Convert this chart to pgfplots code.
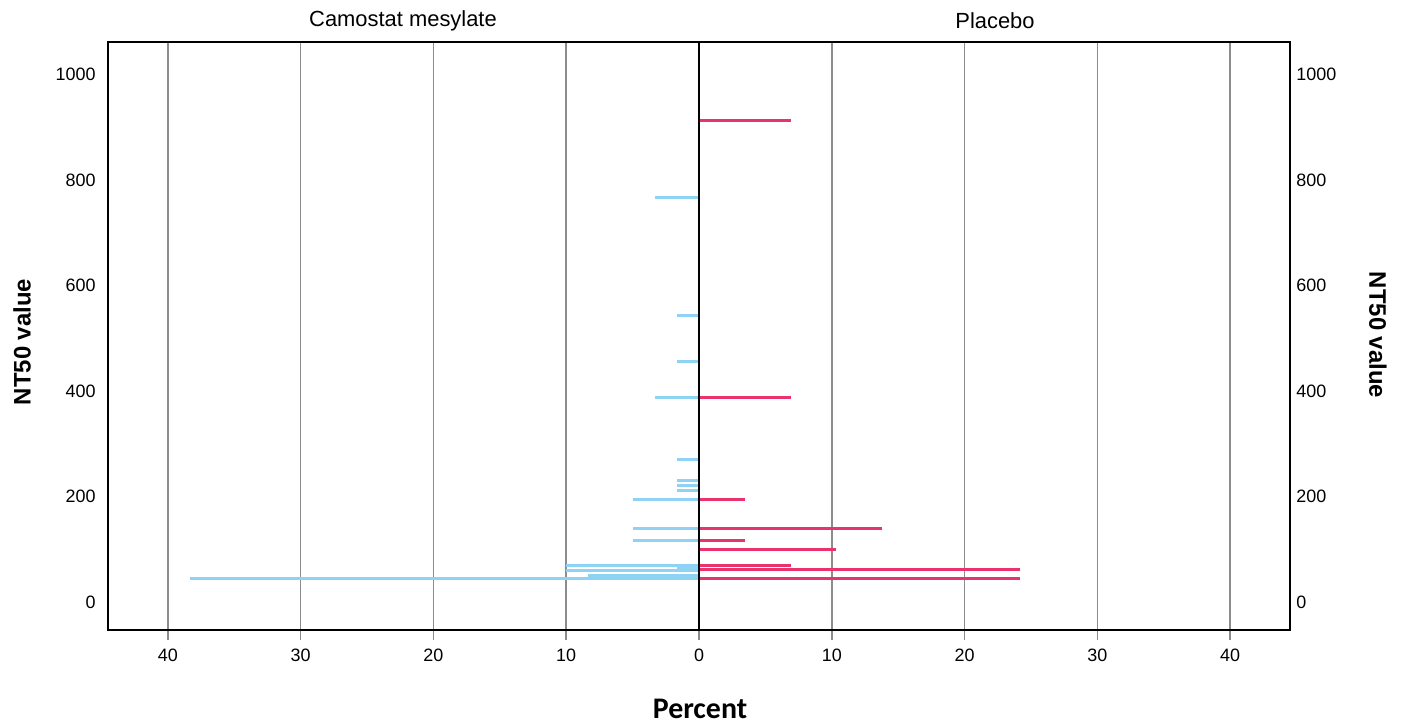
\documentclass[border=0pt]{standalone}
\usepackage{pgfplots}
\pgfplotsset{compat=1.18}
\usepackage{fontspec}
\setmainfont{Liberation Sans}
\newfontfamily\calib{Carlito}
\definecolor{camo}{HTML}{8FD3F4}
\definecolor{plac}{HTML}{E8336D}
\definecolor{gridc}{HTML}{8C8C8C}

\begin{document}
\begin{tikzpicture}[x=1bp,y=1bp]
\useasboundingbox (0,0) rectangle (1410,725);
\begin{axis}[at={(108bp,95bp)}, anchor=south west, scale only axis,
  width=1182bp, height=588bp,
  xmin=-44.5, xmax=44.5, ymin=-53, ymax=1062,
  xtick={-40,-30,...,40}, xticklabels={40,30,20,10,0,10,20,30,40},
  ytick={0,200,...,1000}, yticklabel pos=left,
  xtick pos=bottom,
  xmajorgrids, grid style={gridc, line width=1.5bp},
  tick align=outside, major tick length=10bp,
  xtick style={gridc, line width=1.5bp}, ytick style={draw=none},
  axis line style={black, line width=2bp},
  ticklabel style={font=\fontsize{18}{20}\selectfont},
  /pgf/number format/assume math mode=true, /pgf/number format/1000 sep={},
  xticklabel style={yshift=-5bp}, yticklabel style={xshift=1bp},
  clip=true]
% Camostat mesylate (percent, plotted to the left)
\addplot[xcomb, camo, line width=3bp, mark=none] coordinates {
(-3.33,768) (-1.67,543) (-1.67,457) (-3.33,387) (-1.67,271) (-1.67,231) (-1.67,221) (-1.67,211)
(-5.0,195) (-5.0,140) (-5.0,116) (-10.0,70) (-10.0,59) (-1.67,64.5) (-8.33,51) (-38.33,45)
};
% Placebo
\addplot[xcomb, plac, line width=3bp, mark=none] coordinates {
(6.9,913) (6.9,387) (3.45,195) (13.79,140) (3.45,116) (10.34,100) (6.9,70) (24.14,61) (24.14,45)
};
\addplot[black, line width=2bp, mark=none] coordinates {(0,-53) (0,1062)};
\end{axis}
\begin{axis}[at={(108bp,95bp)}, anchor=south west, scale only axis,
  width=1182bp, height=588bp,
  xmin=-44.5, xmax=44.5, ymin=-53, ymax=1062,
  xtick=\empty, ytick={0,200,...,1000}, yticklabel pos=right,
  ytick style={draw=none}, axis line style={draw=none},
  ticklabel style={font=\fontsize{18}{20}\selectfont},
  /pgf/number format/assume math mode=true, /pgf/number format/1000 sep={},
  yticklabel style={xshift=3bp}]
\addplot[draw=none, mark=none] coordinates {(0,0)};
\end{axis}
\node[font=\fontsize{22}{24}\selectfont] at (403,704) {Camostat mesylate};
\node[font=\fontsize{22}{24}\selectfont] at (995,704) {Placebo};
\node[font=\bfseries\fontsize{24}{28}\selectfont, rotate=90] at (22,383) {NT50 value};
\node[font=\bfseries\fontsize{24}{28}\selectfont, rotate=-90] at (1378,390) {NT50 value};
\node[font=\calib\bfseries\fontsize{30}{32}\selectfont] at (700,16) {Percent};
\end{tikzpicture}
\end{document}
